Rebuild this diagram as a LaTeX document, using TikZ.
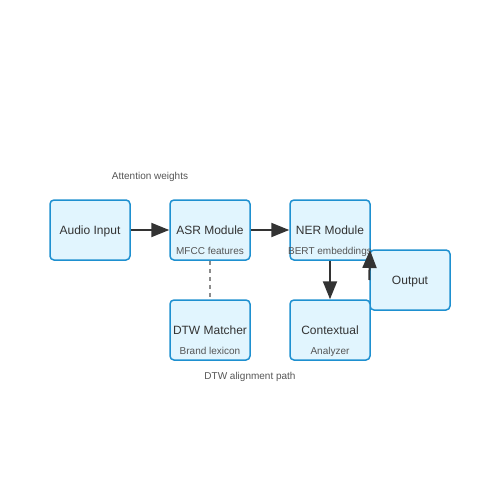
\documentclass[tikz,border=0pt]{standalone}
\usepackage{fontspec}
\setmainfont{Liberation Sans}
\usetikzlibrary{arrows.meta}
\definecolor{boxfill}{HTML}{E1F5FE}
\definecolor{boxline}{HTML}{1E90D0}
\definecolor{ink}{HTML}{333333}
\definecolor{subink}{HTML}{555555}
\tikzset{
  block/.style={draw=boxline, fill=boxfill, line width=1.5pt, rounded corners=4pt,
    minimum width=80pt, minimum height=60pt, inner sep=0pt, text=ink, text depth=0pt,
    font=\fontsize{12}{14}\selectfont},
  sublabel/.style={text=subink, font=\fontsize{10}{12}\selectfont, inner sep=0pt, text depth=0pt},
  flow/.style={draw=ink, line width=2pt, -{Triangle[length=18pt,width=14pt]}},
  link/.style={draw=gray!90, line width=2pt, dash pattern=on 4pt off 4pt}
}
\begin{document}
\begin{tikzpicture}[x=1pt,y=-1pt]
\useasboundingbox (0,0) rectangle (500,500);
% blocks
\node [block] (audio) at (90,230) {Audio Input};
\node [block] (asr) at (210,230) {ASR Module};
\node [sublabel] (mfcc) at (210,251) {MFCC features};
\node [block] (ner) at (330,230) {NER Module};
\node [sublabel] (bert) at (330,251) {BERT embeddings};
\node [block] (out) at (410,280) {Output};
\node [block] (dtw) at (210,330) {DTW Matcher};
\node [sublabel] (lex) at (210,351) {Brand lexicon};
\node [block] (ctx) at (330,330) {Contextual};
\node [sublabel] (ana) at (330,351) {Analyzer};
% free labels
\node [sublabel] (attn) at (150,176) {Attention weights};
\node [sublabel] (path) at (250,376) {DTW alignment path};
% connectors
\coordinate (nerin) at (370,250);
\draw [flow] (audio.east) -- (asr.west);
\draw [flow] (asr.east) -- (ner.west);
\draw [flow] (ner.south) -- (ctx.north);
\draw [flow] (out.west) -- (nerin);
\draw [link] (asr.south) -- (dtw.north);
\end{tikzpicture}
\end{document}
